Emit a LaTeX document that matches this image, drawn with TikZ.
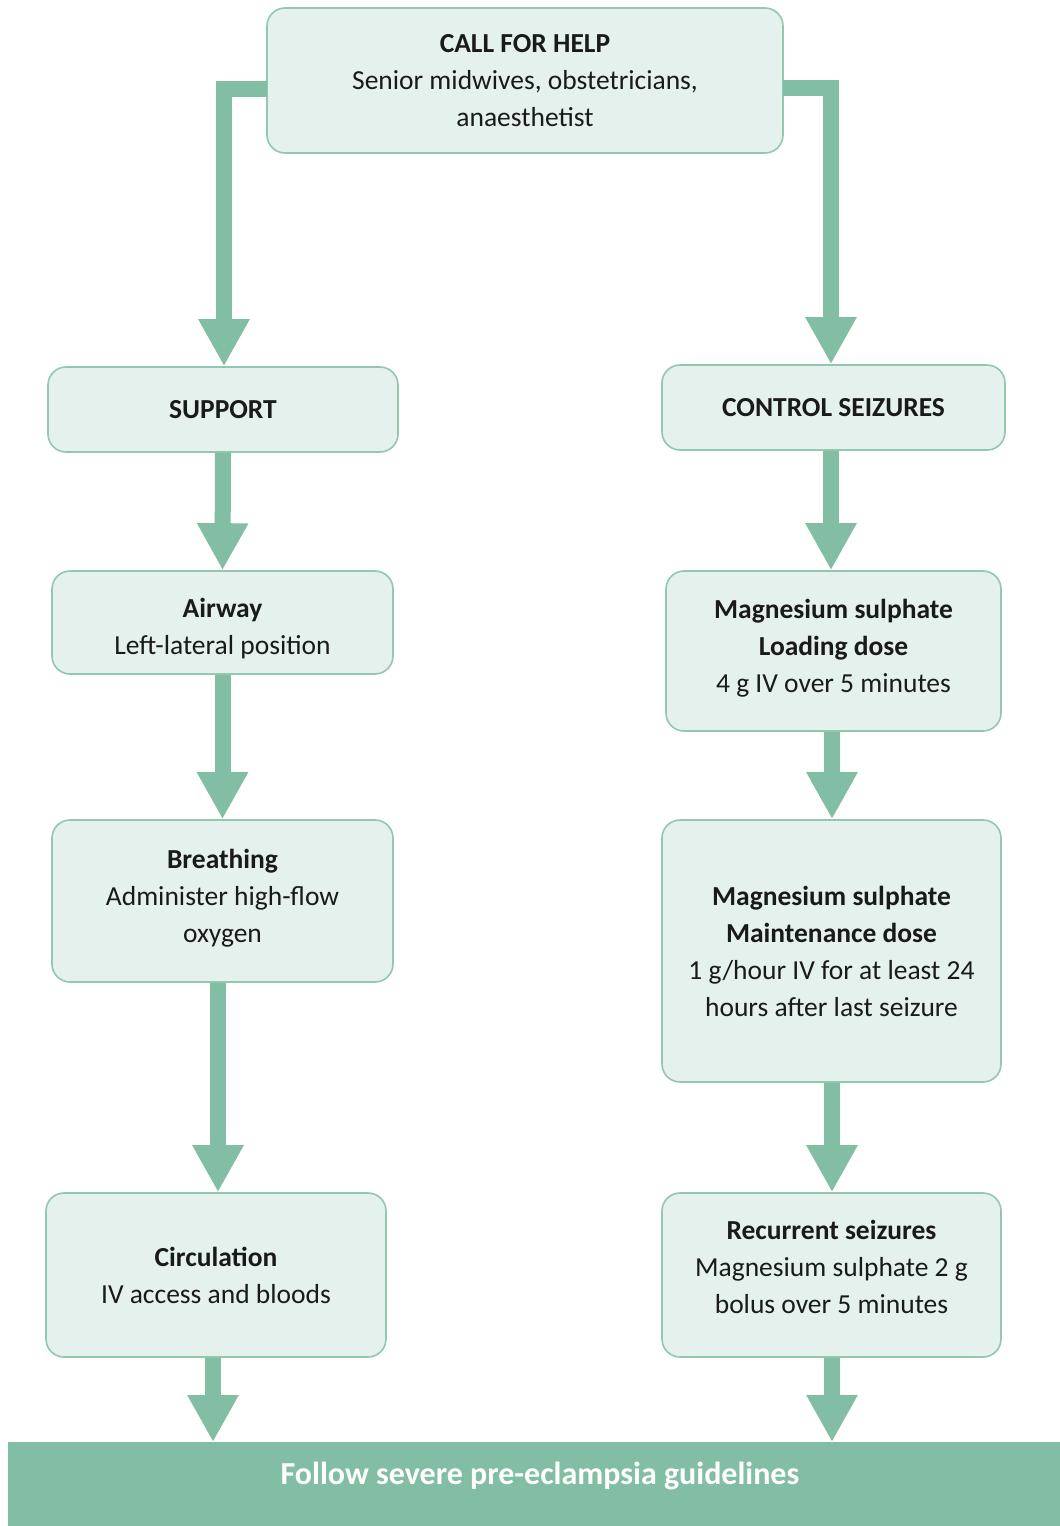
\documentclass[tikz,border=0pt]{standalone}
\usepackage{fontspec}
\setmainfont{Carlito}
\usetikzlibrary{arrows.meta,calc}
\definecolor{arrgreen}{HTML}{82BEA3}
\definecolor{boxfill}{HTML}{E4F1EC}
\definecolor{boxline}{HTML}{93C8AF}
\definecolor{txt}{HTML}{1A1A1A}
\tikzset{
  box/.style={draw=boxline, line width=1.6pt, fill=boxfill, rounded corners=18pt,
    align=center, inner sep=0pt, text=txt, font=\fontsize{27.5}{37}\selectfont},
  arr/.style={draw=arrgreen, line width=16pt, line join=miter,
    -{Triangle[width=48pt,length=47pt]}, arrgreen},
}
\begin{document}
\begin{tikzpicture}[x=1pt,y=-1pt]
\useasboundingbox (0,0) rectangle (1060,1526);
\fill[white] (0,0) rectangle (1060,1526);

\node[box, minimum width=516pt, minimum height=145pt] (help) at (525,80.5)
  {\textbf{CALL FOR HELP}\\Senior midwives, obstetricians,\\anaesthetist};
\node[box, minimum width=350pt, minimum height=85pt] (support) at (223,409.5)
  {\textbf{SUPPORT}};
\node[box, minimum width=343pt, minimum height=85pt] (control) at (833.5,407.5)
  {\textbf{CONTROL SEIZURES}};
\node[box, minimum width=341pt, minimum height=103pt] (airway) at (222.5,622.5)
  {\textbf{Airway}\\Left-lateral position\\[-45pt]};
\node[box, minimum width=335pt, minimum height=160pt] (magl) at (833.5,651)
  {\textbf{Magnesium sulphate}\\\textbf{Loading dose}\\4 g IV over 5 minutes\\[-27pt]};
\node[box, minimum width=341pt, minimum height=162pt] (breath) at (222.5,901)
  {\textbf{Breathing}\\Administer high-flow\\oxygen\\[-27pt]};
\node[box, minimum width=339pt, minimum height=262pt] (maint) at (831.5,951)
  {\textbf{Magnesium sulphate}\\\textbf{Maintenance dose}\\1 g/hour IV for at least 24\\hours after last seizure};
\node[box, minimum width=340pt, minimum height=164pt] (circ) at (216,1275)
  {\textbf{Circulation}\\IV access and bloods};
\node[box, minimum width=339pt, minimum height=164pt] (recur) at (831.5,1275)
  {\textbf{Recurrent seizures}\\Magnesium sulphate 2 g\\bolus over 5 minutes\\[-21pt]};
\node[fill=arrgreen, minimum width=1052pt, minimum height=84pt, inner sep=0pt,
  anchor=north west] (bar) at (8,1442) {};
\node[text=white, font=\fontsize{32}{36}\selectfont\bfseries] (bartext) at (540,1476)
  {Follow severe pre-eclampsia guidelines};

\coordinate (hl) at (267,89);
\coordinate (hr) at (783,88);
\draw[arr] (hl) -| (support.north -| 224,0);
\draw[arr] (hr) -| (control.north -| 831,0);
\draw[arr] (support.south) -- (airway.north);
\draw[arr] (control.south -| 831,0) -- (magl.north -| 831,0);
\draw[arr] (airway.south) -- (breath.north);
\draw[arr] (magl.south -| 832,0) -- (maint.north -| 832,0);
\draw[arr] (breath.south -| 218,0) -- (circ.north -| 218,0);
\draw[arr] (maint.south -| 832,0) -- (recur.north -| 832,0);
\draw[arr] (circ.south -| 213,0) -- (bar.north -| 213,0);
\draw[arr] (recur.south -| 832,0) -- (bar.north -| 832,0);
\end{tikzpicture}
\end{document}
